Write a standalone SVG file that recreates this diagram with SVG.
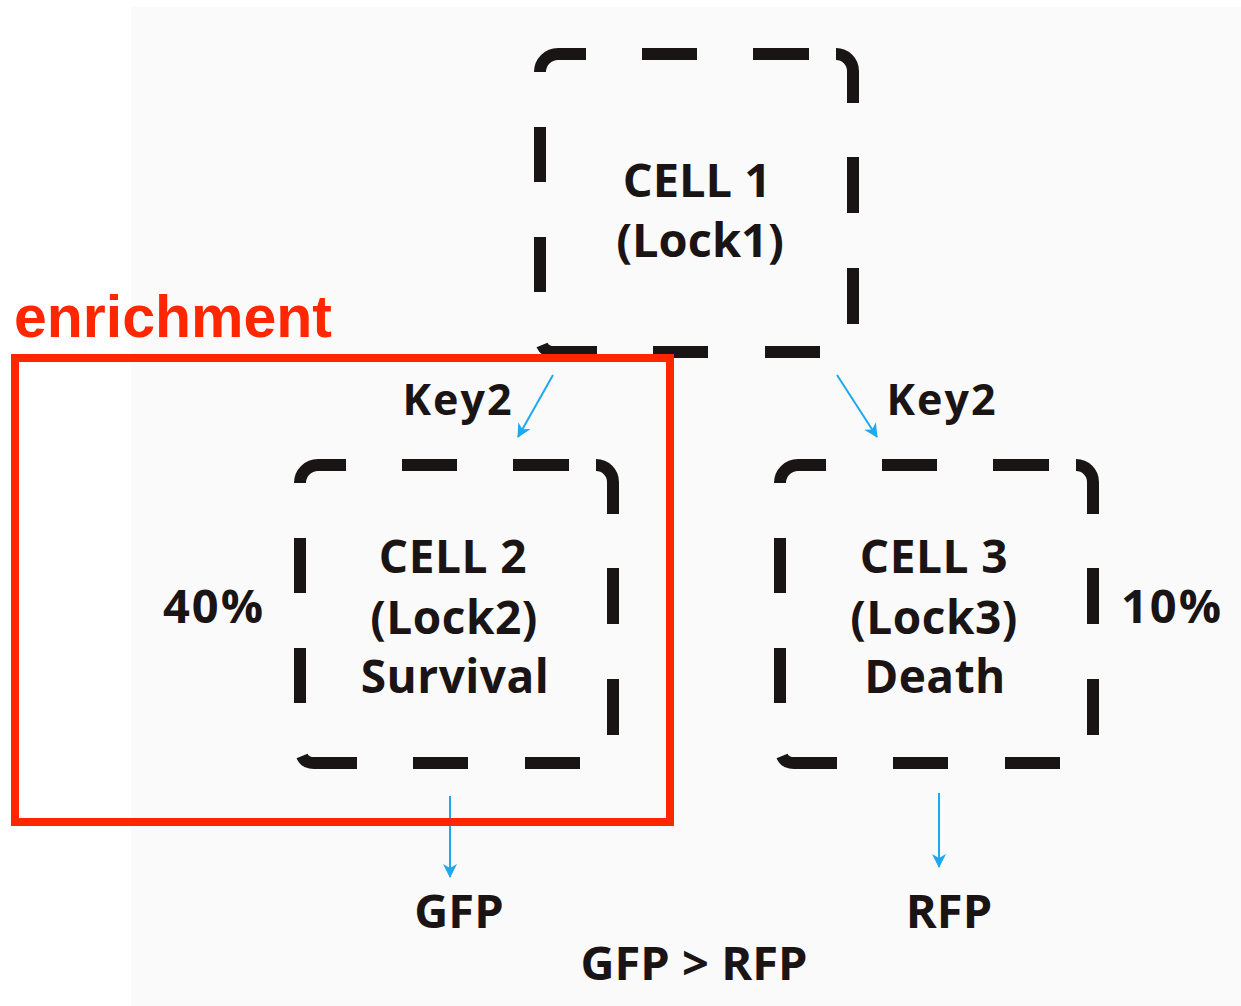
<svg xmlns="http://www.w3.org/2000/svg" width="1241" height="1006" viewBox="0 0 1241 1006">
<style>
.dash{fill:none;stroke:#1a1515;stroke-width:12;stroke-linecap:butt}
.t{font-family:"Open Sans","Noto Sans","Liberation Sans",sans-serif;font-weight:700;fill:#1a1414;text-anchor:middle}
.cell{font-size:46px;letter-spacing:0.5px}
.lbl{font-size:47px;letter-spacing:2px}
.conn{stroke:#1fa8ee;stroke-width:2;fill:none}
</style>
<defs>
<marker id="ah" viewBox="0 0 14 14" refX="13" refY="7" markerWidth="14" markerHeight="14" markerUnits="userSpaceOnUse" orient="auto">
<path d="M0,0 L14,7 L0,14 L4,7 Z" fill="#1fa8ee"/>
</marker>
<g id="box">
<path class="dash" d="M0 18 A18 18 0 0 1 18 0 L46 0"/>
<path class="dash" d="M102 0 L157 0 M213 0 L269 0"/>
<path class="dash" d="M296 0 A17 17 0 0 1 313 17 L313 49"/>
<path class="dash" d="M313 103 L313 159 M313 214 L313 270"/>
<path class="dash" d="M280 298 L225 298 M168 298 L113 298"/>
<path class="dash" d="M57 298 L14 298 Q5 298 2 291"/>
<path class="dash" d="M0 238 L0 183 M0 128 L0 73"/>
</g>
</defs>
<rect x="0" y="0" width="1241" height="1006" fill="#ffffff"/>
<rect x="131" y="7" width="1110" height="999" fill="#fafafa"/>

<g id="cell1">
<use href="#box" x="540" y="54"/>
<text class="t" x="697" y="197" font-size="47">CELL 1</text>
<text class="t" x="700" y="257" font-size="47">(Lock1)</text>
</g>

<g id="cell2">
<use href="#box" x="300" y="465"/>
<text class="t cell" x="453" y="573">CELL 2</text>
<text class="t cell" x="454" y="634">(Lock2)</text>
<text class="t cell" x="455" y="693">Survival</text>
</g>

<g id="cell3">
<use href="#box" x="780" y="465"/>
<text class="t cell" x="934" y="573">CELL 3</text>
<text class="t cell" x="934" y="634">(Lock3)</text>
<text class="t cell" x="935" y="693">Death</text>
</g>

<g id="connectors">
<line class="conn" x1="553" y1="375" x2="518" y2="437" marker-end="url(#ah)"/>
<line class="conn" x1="837" y1="375" x2="877" y2="437" marker-end="url(#ah)"/>
<line class="conn" x1="450" y1="796" x2="450" y2="877" marker-end="url(#ah)"/>
<line class="conn" x1="939" y1="793" x2="939" y2="867" marker-end="url(#ah)"/>
</g>

<g id="labels">
<text class="t" x="458" y="415" font-size="43" letter-spacing="2">Key2</text>
<text class="t" x="942" y="415" font-size="43" letter-spacing="2">Key2</text>
<text class="t lbl" x="214" y="623">40%</text>
<text class="t lbl" x="1172" y="623">10%</text>
<text class="t" x="459" y="928" font-size="47">GFP</text>
<text class="t" x="949" y="928" font-size="47">RFP</text>
<text class="t" x="694" y="980" font-size="47">GFP &gt; RFP</text>
</g>

<g id="enrichment">
<rect x="15" y="358" width="655" height="464" fill="none" stroke="#ff2600" stroke-width="8"/>
<text x="14" y="337" font-family="'Liberation Sans',Arial,sans-serif" font-weight="700" font-size="59" fill="#ff2600">enrichment</text>
</g>
</svg>
